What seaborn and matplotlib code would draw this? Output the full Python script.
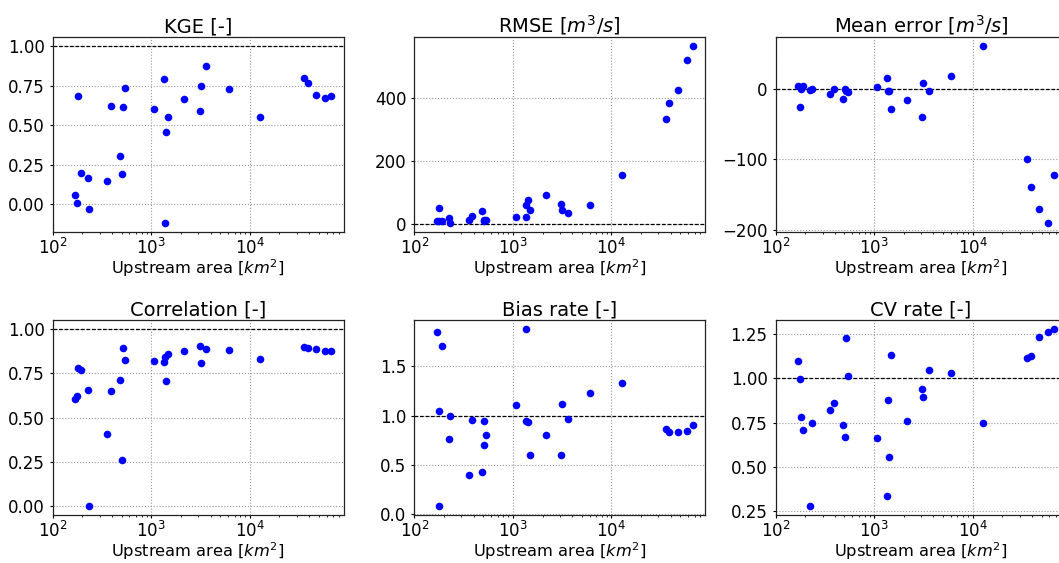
import matplotlib
matplotlib.use("Agg")
import matplotlib.pyplot as plt
import seaborn as sns
import numpy as np

# Upstream area of each station [km2]
area = [170, 177, 180, 192, 226, 232, 359, 388, 484, 506, 515, 539, 1072, 1350,
        1375, 1416, 1476, 2150, 3090, 3160, 3620, 6080, 12800, 35500, 38700,
        47400, 58500, 66500]

kge = [0.057, 0.006, 0.682, 0.199, 0.167, -0.028, 0.146, 0.621, 0.307, 0.191,
       0.614, 0.737, 0.602, 0.792, -0.121, 0.460, 0.555, 0.667, 0.589, 0.750,
       0.875, 0.729, 0.553, 0.797, 0.765, 0.693, 0.672, 0.684]

rmse = [10, 11, 51, 11, 18, 2, 13, 26, 41, 11, 12, 14, 22, 59, 21, 75, 46, 92,
        63, 45, 36, 60, 155, 333, 384, 427, 521, 565]

mean_error = [3.8, -25.6, 0.0, 3.0, -2.0, -1.0, -7.6, -1.0, -15.0, -1.0, -4.0,
              -5.0, 2.0, 15.0, -3.0, -3.0, -29.0, -16.0, -40.0, 8.0, -3.0, 18.0,
              60.0, -99.5, -139.0, -170.0, -191.0, -122.0]

correlation = [0.606, 0.620, 0.782, 0.770, 0.654, 0.002, 0.407, 0.648, 0.710,
               0.264, 0.891, 0.825, 0.820, 0.814, 0.843, 0.704, 0.861, 0.876,
               0.902, 0.808, 0.889, 0.879, 0.830, 0.898, 0.890, 0.885, 0.877,
               0.877]

bias_rate = [1.846, 0.082, 1.051, 1.704, 0.762, 0.997, 0.401, 0.960, 0.425,
             0.946, 0.700, 0.800, 1.112, 1.880, 0.942, 0.932, 0.599, 0.803,
             0.605, 1.116, 0.963, 1.234, 1.330, 0.864, 0.830, 0.830, 0.844,
             0.905]

cv_rate = [1.101, 0.998, 0.780, 0.709, 0.278, 0.750, 0.823, 0.863, 0.739, 0.669,
           1.226, 1.015, 0.664, 0.334, 0.880, 0.554, 1.135, 0.758, 0.940, 0.897,
           1.047, 1.028, 0.750, 1.115, 1.126, 1.236, 1.260, 1.280]

titles = ["KGE [-]", "RMSE [$m^3/s$]", "Mean error [$m^3/s$]",
          "Correlation [-]", "Bias rate [-]", "CV rate [-]"]
series = [kge, rmse, mean_error, correlation, bias_rate, cv_rate]
ref_lines = [1, 0, 0, 1, 1, 1]
xlabel = "Upstream area [$km^2$]"

W, H = 1059, 563
fig = plt.figure(figsize=(W / 100, H / 100), dpi=100)

col_left = [52.7, 414.3, 775.5]
ax_w = 291.0
row_bottom = [232.3, 515.0]
ax_h = 195.0

for i, (title, vals, ref) in enumerate(zip(titles, series, ref_lines)):
    r, c = divmod(i, 3)
    ax = fig.add_axes([col_left[c] / W, 1 - row_bottom[r] / H, ax_w / W, ax_h / H])
    ax.set_xscale("log")
    sns.scatterplot(x=area, y=vals, ax=ax, color="blue", s=30, linewidth=0,
                    zorder=3)
    ax.axhline(ref, color="black", linestyle=(0, (3.0, 1.4)), linewidth=0.9,
               zorder=2)
    ax.set_xlim(left=100)
    ax.grid(True, which="major", linestyle=":", color="#999999", linewidth=0.8)
    ax.set_axisbelow(True)
    ax.set_title(title, fontsize=14, pad=3.6)
    ax.set_xlabel(xlabel, fontsize=11.7, labelpad=-0.8)
    ax.set_ylabel("")
    ax.tick_params(axis="both", which="major", labelsize=12, length=2.2,
                   width=0.8, pad=3.5)
    ax.tick_params(axis="x", which="major", pad=2.0)
    ax.tick_params(axis="both", which="minor", length=1.3, width=0.6)
    for sp in ax.spines.values():
        sp.set_linewidth(0.9)
        sp.set_color("#222222")

fig.savefig("out.png", dpi=100)
